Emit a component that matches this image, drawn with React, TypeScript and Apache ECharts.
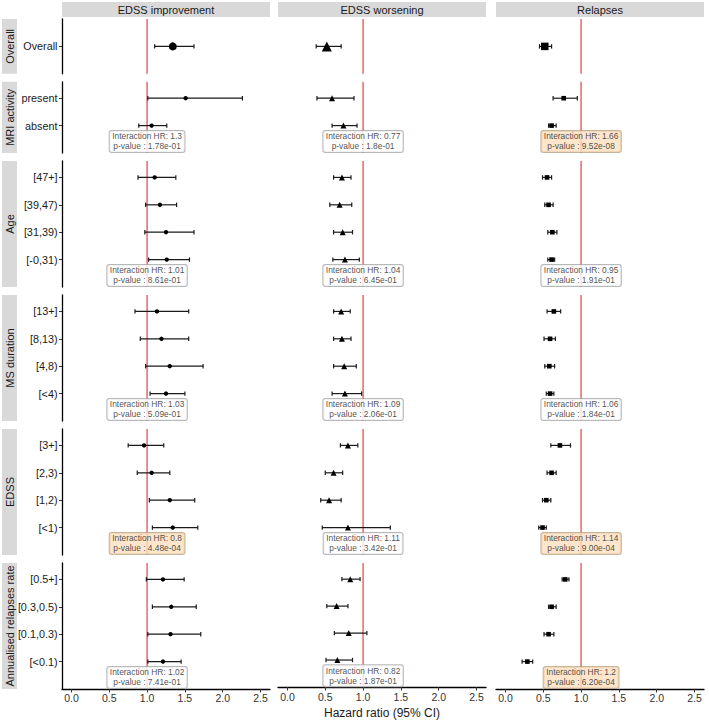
import React, { useEffect, useRef } from "react";
import * as echarts from "echarts";

const FONT = "'Liberation Sans', Arial, Helvetica, sans-serif";

const outcomes = ["EDSS improvement", "EDSS worsening", "Relapses"];
const groupNames = ["Overall", "MRI activity", "Age", "MS duration", "EDSS", "Annualised relapses rate"];

const overallLevels = ["Overall"];
const mriLevels = ["present", "absent"];
const ageLevels = ["[47+]", "[39,47)", "[31,39)", "[-0,31)"];
const msdLevels = ["[13+]", "[8,13)", "[4,8)", "[<4)"];
const edssLevels = ["[3+]", "[2,3)", "[1,2)", "[<1)"];
const arrLevels = ["[0.5+]", "[0.3,0.5)", "[0.1,0.3)", "[<0.1)"];
const groupLevels = [overallLevels, mriLevels, ageLevels, msdLevels, edssLevels, arrLevels];

// Values in row order: Overall, MRI (present, absent), Age, MS duration, EDSS, ARR
const impHR = [1.34, 1.51, 1.06, 1.10, 1.17, 1.25, 1.26, 1.13, 1.19, 1.30, 1.25, 0.96, 1.06, 1.30, 1.34, 1.21, 1.32, 1.31, 1.21];
const impLo = [1.10, 1.01, 0.89, 0.88, 0.98, 0.97, 1.02, 0.84, 0.91, 0.98, 1.04, 0.75, 0.87, 1.03, 1.07, 0.99, 1.07, 1.01, 1.01];
const impHi = [1.62, 2.26, 1.26, 1.38, 1.39, 1.62, 1.56, 1.55, 1.55, 1.74, 1.50, 1.22, 1.30, 1.63, 1.67, 1.49, 1.65, 1.71, 1.45];

const worHR = [0.52, 0.59, 0.74, 0.72, 0.69, 0.73, 0.76, 0.71, 0.72, 0.75, 0.76, 0.80, 0.61, 0.55, 0.80, 0.83, 0.65, 0.81, 0.66];
const worLo = [0.38, 0.39, 0.59, 0.61, 0.56, 0.61, 0.60, 0.61, 0.61, 0.61, 0.59, 0.70, 0.50, 0.44, 0.46, 0.72, 0.52, 0.62, 0.51];
const worHi = [0.71, 0.88, 0.92, 0.84, 0.85, 0.86, 0.95, 0.83, 0.84, 0.91, 0.98, 0.93, 0.73, 0.71, 1.36, 0.96, 0.80, 1.05, 0.86];

const relHR = [0.52, 0.77, 0.61, 0.55, 0.57, 0.62, 0.61, 0.64, 0.59, 0.58, 0.59, 0.72, 0.61, 0.54, 0.49, 0.79, 0.61, 0.57, 0.29];
const relLo = [0.45, 0.63, 0.57, 0.49, 0.52, 0.56, 0.56, 0.55, 0.51, 0.52, 0.54, 0.60, 0.55, 0.49, 0.44, 0.75, 0.57, 0.51, 0.22];
const relHi = [0.61, 0.95, 0.67, 0.61, 0.63, 0.68, 0.65, 0.73, 0.66, 0.65, 0.64, 0.86, 0.67, 0.60, 0.54, 0.84, 0.67, 0.64, 0.36];

// Interaction results for MRI, Age, MS duration, EDSS, ARR
const impIntHR = ["1.3", "1.01", "1.03", "0.8", "1.02"];
const impIntP = ["1.78e-01", "8.61e-01", "5.09e-01", "4.48e-04", "7.41e-01"];
const worIntHR = ["0.77", "1.04", "1.09", "1.11", "0.82"];
const worIntP = ["1.8e-01", "6.45e-01", "2.06e-01", "3.42e-01", "1.87e-01"];
const relIntHR = ["1.66", "0.95", "1.06", "1.14", "1.2"];
const relIntP = ["9.52e-08", "1.91e-01", "1.84e-01", "9.00e-04", "6.20e-04"];

const xTicks = [0, 0.5, 1, 1.5, 2, 2.5];
const refHR = 1;

export default function App() {
  const ref = useRef<HTMLDivElement>(null);

  useEffect(() => {
    if (!ref.current) return;
    const chart = echarts.init(ref.current, null, { renderer: "svg" });

    const hrs = [impHR, worHR, relHR];
    const los = [impLo, worLo, relLo];
    const his = [impHi, worHi, relHi];
    const intHR = [impIntHR, worIntHR, relIntHR];
    const intP = [impIntP, worIntP, relIntP];
    const symbols = ["circle", "triangle", "rect"];
    const bigSize = [8, 10, 7.5];
    const smallSize = [4.4, 6, 4.6];

    const colLeft = [62, 278, 496];
    const panelW = 208;
    const unitPx = 27.39;
    const gap = 8;
    const rowUnits = groupLevels.map((l, i) => (i === 0 ? 2 : l.length + 0.6));
    const tops: number[] = [];
    let t = 19;
    rowUnits.forEach((u) => {
      tops.push(t);
      t += u * unitPx + gap;
    });

    const grids: any[] = [];
    const xAxes: any[] = [];
    const yAxes: any[] = [];
    const series: any[] = [];
    const graphic: any[] = [];

    let offset = 0;
    groupLevels.forEach((levels, r) => {
      const n = levels.length;
      const isBottom = r === groupLevels.length - 1;
      for (let c = 0; c < 3; c++) {
        const gi = grids.length;
        grids.push({
          left: colLeft[c],
          top: tops[r],
          width: panelW,
          height: rowUnits[r] * unitPx,
          containLabel: false,
        });
        xAxes.push({
          type: "value",
          gridIndex: gi,
          min: -0.125,
          max: 2.625,
          show: isBottom,
          splitLine: { show: false },
          axisLine: { show: true, onZero: false, lineStyle: { color: "#000", width: 1.3 } },
          axisTick: { show: true, customValues: xTicks, length: 3.5, lineStyle: { color: "#333", width: 1 } },
          axisLabel: {
            show: true,
            customValues: xTicks,
            formatter: (v: number) => v.toFixed(1),
            fontSize: 10.5,
            fontFamily: FONT,
            color: "#333",
            margin: 4,
          },
          name: isBottom && c === 1 ? "Hazard ratio (95% CI)" : "",
          nameLocation: "middle",
          nameGap: 20,
          nameTextStyle: { fontSize: 12, fontFamily: FONT, color: "#1a1a1a" },
        });
        const tickVals = levels.map((_, i) => n - i);
        yAxes.push({
          type: "value",
          gridIndex: gi,
          min: 0,
          max: rowUnits[r],
          show: c === 0,
          splitLine: { show: false },
          axisLine: { show: true, onZero: false, lineStyle: { color: "#000", width: 1.3 } },
          axisTick: { show: true, customValues: tickVals, length: 3, lineStyle: { color: "#333", width: 1 } },
          axisLabel: {
            show: true,
            customValues: tickVals,
            formatter: (v: number) => levels[n - Math.round(v)] ?? "",
            fontSize: 10.8,
            fontFamily: FONT,
            color: "#1a1a1a",
            margin: 4.5,
          },
        });

        // reference line at HR = 1
        series.push({
          type: "custom",
          xAxisIndex: gi,
          yAxisIndex: gi,
          z: 2,
          silent: true,
          encode: { x: 0, y: 1 },
          data: [[refHR, 0]],
          renderItem: (params: any, api: any) => {
            const cs = params.coordSys;
            const p = api.coord([api.value(0), api.value(1)]);
            return {
              type: "line",
              shape: { x1: p[0], y1: cs.y, x2: p[0], y2: cs.y + cs.height },
              style: { stroke: "#e67373", lineWidth: 1.6 },
            };
          },
        });

        const errData = levels.map((_, i) => [los[c][offset + i], his[c][offset + i], n - i]);
        const ptData = levels.map((_, i) => [hrs[c][offset + i], n - i]);

        series.push({
          type: "custom",
          xAxisIndex: gi,
          yAxisIndex: gi,
          z: 3,
          silent: true,
          encode: { x: [0, 1], y: 2 },
          data: errData,
          renderItem: (params: any, api: any) => {
            const lo = api.coord([api.value(0), api.value(2)]);
            const hi = api.coord([api.value(1), api.value(2)]);
            const cap = 2.2;
            const st = { stroke: "#1a1a1a", lineWidth: 1.2 };
            return {
              type: "group",
              children: [
                { type: "line", shape: { x1: lo[0], y1: lo[1], x2: hi[0], y2: hi[1] }, style: st },
                { type: "line", shape: { x1: lo[0], y1: lo[1] - cap, x2: lo[0], y2: lo[1] + cap }, style: st },
                { type: "line", shape: { x1: hi[0], y1: hi[1] - cap, x2: hi[0], y2: hi[1] + cap }, style: st },
              ],
            };
          },
        });

        series.push({
          type: "scatter",
          xAxisIndex: gi,
          yAxisIndex: gi,
          z: 4,
          silent: true,
          symbol: symbols[c],
          symbolSize: r === 0 ? bigSize[c] : smallSize[c],
          itemStyle: { color: "#000", opacity: 1 },
          data: ptData,
        });

        if (r > 0) {
          const p = intP[c][r - 1];
          const sig = parseFloat(p) < 0.05;
          series.push({
            type: "scatter",
            xAxisIndex: gi,
            yAxisIndex: gi,
            z: 6,
            silent: true,
            symbolSize: 1,
            itemStyle: { color: "rgba(0,0,0,0)" },
            data: [[refHR, 0.42]],
            label: {
              show: true,
              position: "inside",
              formatter: "Interaction HR: " + intHR[c][r - 1] + "\np-value : " + p,
              fontFamily: FONT,
              fontSize: 8.4,
              lineHeight: 10,
              color: "#222",
              align: "center",
              backgroundColor: sig ? "#fce0be" : "#ffffff",
              borderColor: sig ? "#b8a184" : "#a6a6a6",
              borderWidth: 1,
              borderRadius: 2,
              padding: [1, 2.5, 0, 2.5],
            },
          });
        }
      }
      offset += n;
    });

    // Top facet strips
    outcomes.forEach((name, c) => {
      graphic.push({
        type: "rect",
        silent: true,
        shape: { x: colLeft[c], y: 2, width: panelW, height: 15 },
        style: { fill: "#d9d9d9" },
      });
      graphic.push({
        type: "text",
        silent: true,
        x: colLeft[c] + panelW / 2,
        y: 9.8,
        style: { text: name, fontSize: 11, fontFamily: FONT, fill: "#1a1a1a", align: "center", verticalAlign: "middle" },
      });
    });

    // Left row strips
    groupNames.forEach((name, r) => {
      const h = rowUnits[r] * unitPx;
      graphic.push({
        type: "rect",
        silent: true,
        shape: { x: 2, y: tops[r], width: 15, height: h },
        style: { fill: "#d9d9d9" },
      });
      graphic.push({
        type: "text",
        silent: true,
        x: 9.8,
        y: tops[r] + h / 2,
        rotation: Math.PI / 2,
        style: { text: name, fontSize: 11, fontFamily: FONT, fill: "#1a1a1a", align: "center", verticalAlign: "middle" },
      });
    });

    chart.setOption({
      animation: false,
      backgroundColor: "#ffffff",
      textStyle: { fontFamily: FONT },
      grid: grids,
      xAxis: xAxes,
      yAxis: yAxes,
      series,
      graphic,
    });

    return () => chart.dispose();
  }, []);

  return (
    <div
      ref={ref}
      style={{ position: "fixed", left: 0, top: 0, width: 709, height: 720, background: "#fff" }}
    />
  );
}
